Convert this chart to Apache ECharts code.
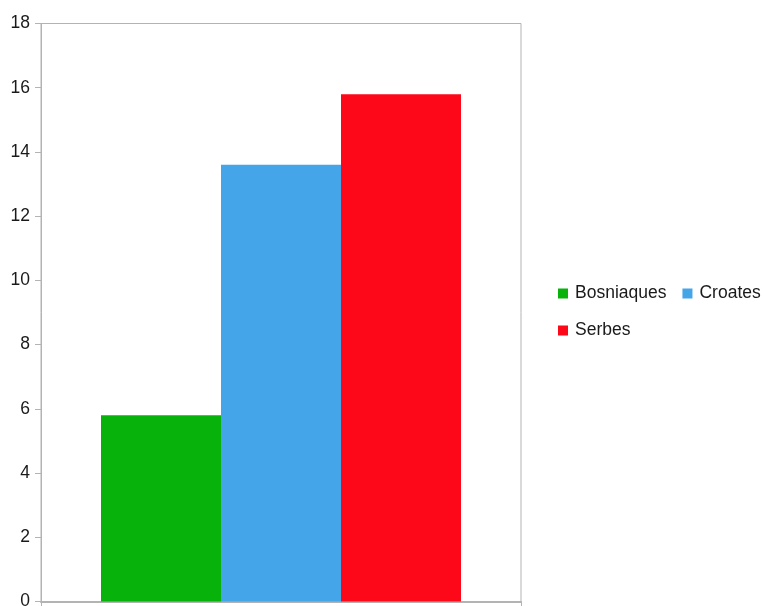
<!DOCTYPE html>
<html><head><meta charset="utf-8">
<script src="https://cdn.jsdelivr.net/npm/echarts@6/dist/echarts.min.js"></script>
<style>html,body{margin:0;padding:0;background:#fff;overflow:hidden}#c{width:762px;height:606px}</style>
</head><body><div id="c"></div>
<script>
var categories = [''];
var seriesNames = ['Bosniaques', 'Croates', 'Serbes'];
var bosniaques = [5.8];
var croates = [13.6];
var serbes = [15.8];
var colors = ['#07b30b', '#44a5e8', '#fd0818'];
var yTicks = [0, 2, 4, 6, 8, 10, 12, 14, 16, 18];

var values = [bosniaques, croates, serbes];
var chart = echarts.init(document.getElementById('c'), null, {renderer: 'canvas'});
chart.setOption({
  animation: false,
  backgroundColor: '#fff',
  textStyle: {fontFamily: 'Liberation Sans'},
  grid: {left: 41, right: 241, top: 23.5, bottom: 4.5, show: true, borderColor: '#b3b3b3', borderWidth: 1, containLabel: false, outerBoundsMode: 'none'},
  legend: {
    data: seriesNames,
    left: 553, top: 278, width: 215,
    orient: 'horizontal',
    itemWidth: 10, itemHeight: 10, itemGap: 16,
    icon: 'rect',
    textStyle: {fontSize: 17.5, color: '#1a1a1a', fontFamily: 'Liberation Sans', lineHeight: 21, padding: [0,0,0,2]}
  },
  xAxis: {
    type: 'category', data: categories,
    axisLine: {lineStyle: {color: '#b3b3b3', width: 2}},
    axisTick: {show: true, length: 5, lineStyle: {color: '#b3b3b3'}},
    axisLabel: {show: false},
    splitLine: {show: false}
  },
  yAxis: {
    type: 'value', min: yTicks[0], max: yTicks[yTicks.length-1], interval: 2,
    axisLine: {show: true, lineStyle: {color: '#b3b3b3'}},
    axisTick: {show: true, length: 6, lineStyle: {color: '#b3b3b3'}},
    axisLabel: {fontSize: 17.5, color: '#1a1a1a', margin: 11, fontFamily: 'Liberation Sans'},
    splitLine: {show: false}
  },
  series: seriesNames.map(function(n, i){
    return {name: n, type: 'bar', data: values[i], barGap: '0%', barCategoryGap: '25%',
      itemStyle: {color: colors[i]}};
  })
});
</script></body></html>
